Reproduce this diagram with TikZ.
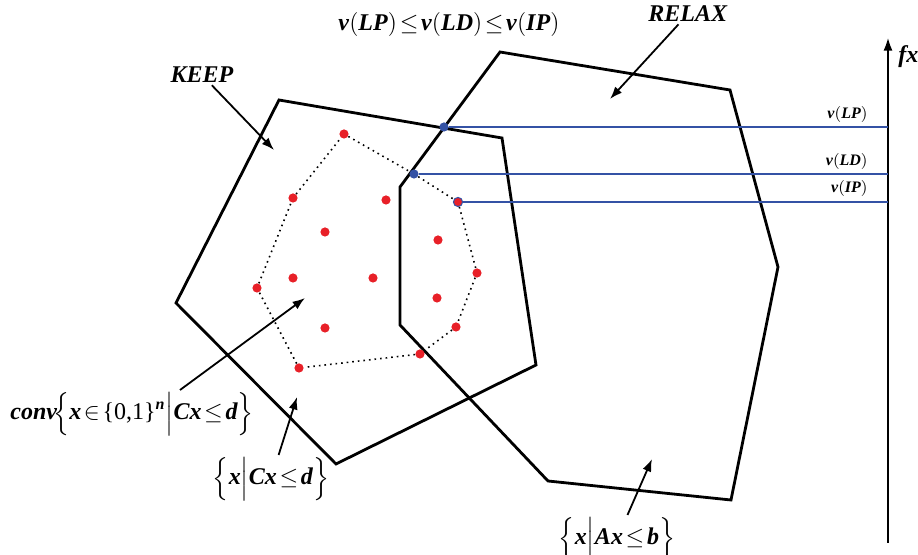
\documentclass[tikz,border=0pt]{standalone}
\usepackage{amsmath}
\usepackage{fontspec}
\setmainfont{Liberation Serif}
\usetikzlibrary{arrows.meta,positioning}
\definecolor{ptred}{RGB}{232,32,40}
\definecolor{lvblue}{RGB}{52,82,165}
\newcommand{\bi}[1]{\textbf{\textit{#1}}}
\thickmuskip=2mu plus 1mu

\begin{document}
\begin{tikzpicture}[x=0.5pt, y=-0.5pt,
    region/.style={draw, line width=1.4pt, line join=miter},
    hull/.style={dotted, line width=0.8pt},
    pt/.style={circle, fill=ptred, inner sep=0pt, minimum size=4.6pt},
    bpt/.style={circle, fill=lvblue, inner sep=0pt, minimum size=4.6pt},
    level/.style={draw=lvblue, line width=1pt},
    lbl/.style={font=\large, inner sep=1pt},
    vlbl/.style={font=\footnotesize, inner sep=1pt, anchor=south east},
    arrow/.style={-{Latex[length=2.2mm, width=1.6mm]}, line width=0.9pt},
    axis/.style={-{Latex[length=2.4mm, width=1.6mm]}, line width=1.3pt}
  ]
    \useasboundingbox (0,0) rectangle (918,555);
    % the two regions
    \draw[region] (279,100) -- (502,138) -- (536,365) -- (336,464) -- (176,303) -- cycle;
    \draw[region] (500,52) -- (730,90) -- (778,267) -- (731,500) -- (548,481) -- (400,325) -- (400,187) -- cycle;
    % integer points
    \node[pt] (a1) at (344,134) {};
    \node[bpt] (ld) at (414,174) {};
    \node[pt, draw=lvblue, line width=0.5pt] (ip) at (458,202) {};
    \node[pt] (a4) at (477,273) {};
    \node[pt] (a5) at (456,327) {};
    \node[pt] (a6) at (420,354) {};
    \node[pt] (a7) at (299,368) {};
    \node[pt] (a8) at (257,288) {};
    \node[pt] (a9) at (293,198) {};
    \node[pt] (b1) at (386,200) {};
    \node[pt] (b2) at (325,232) {};
    \node[pt] (b3) at (438,240) {};
    \node[pt] (b4) at (293,278) {};
    \node[pt] (b5) at (373,278) {};
    \node[pt] (b6) at (437,298) {};
    \node[pt] (b7) at (325,328) {};
    \node[bpt] (lp) at (444,127) {};
    \draw[hull] (a1) -- (ld) -- (ip) -- (a4) -- (a5) -- (a6) -- (a7) -- (a8) -- (a9) -- (a1);
    % objective axis and bounds
    \coordinate (axbot) at (888,543);
    \coordinate (axtop) at (888,37);
    \draw[axis] (axbot) -- (axtop);
    \node[lbl, anchor=west] (fx) at (896,57) {\bi{fx}};
    \coordinate (axlp) at (888,127);
    \coordinate (axld) at (888,174);
    \coordinate (axip) at (888,202);
    \draw[level] (lp) -- (axlp);
    \draw[level] (ld) -- (axld);
    \draw[level] (ip) -- (axip);
    \node[vlbl] (vlp) at (870,125) {$\bi{v}(\bi{LP})$};
    \node[vlbl] (vld) at (870,172) {$\bi{v}(\bi{LD})$};
    \node[vlbl] (vip) at (870,199) {$\bi{v}(\bi{IP})$};
    \node[lbl] (chain) at (449,25) {$\bi{v}(\bi{LP})\le\bi{v}(\bi{LD})\le\bi{v}(\bi{IP})$};
    % labels with arrows
    \node[lbl] (keep) at (202,75) {\bi{KEEP}};
    \coordinate (keeptip) at (274,150);
    \draw[arrow] (keep) -- (keeptip);
    \node[lbl] (relax) at (688,14) {\bi{RELAX}};
    \coordinate (relaxtip) at (610,99);
    \draw[arrow] (relax) -- (relaxtip);
    \node[lbl, anchor=west] (conv) at (8,414) {$\bi{conv}\!\Bigl\{\bi{x}\in\text{\{0,1\}}^{\bi{n}}\Big|\bi{Cx}\le\bi{d}\Bigr\}$};
    \coordinate (convtip) at (305,298);
    \draw[arrow] ([xshift=86pt]conv.north west) -- (convtip);
    \node[lbl] (cxd) at (271,479) {$\Bigl\{\bi{x}\Big|\bi{Cx}\le\bi{d}\Bigr\}$};
    \coordinate (cxdtip) at (297,397);
    \draw[arrow] (cxd) -- (cxdtip);
    \node[lbl] (axb) at (617,539) {$\Bigl\{\bi{x}\Big|\bi{Ax}\le\bi{b}\Bigr\}$};
    \coordinate (axbtip) at (652,459);
    \draw[arrow] (axb) -- (axbtip);
  \end{tikzpicture}
\end{document}
